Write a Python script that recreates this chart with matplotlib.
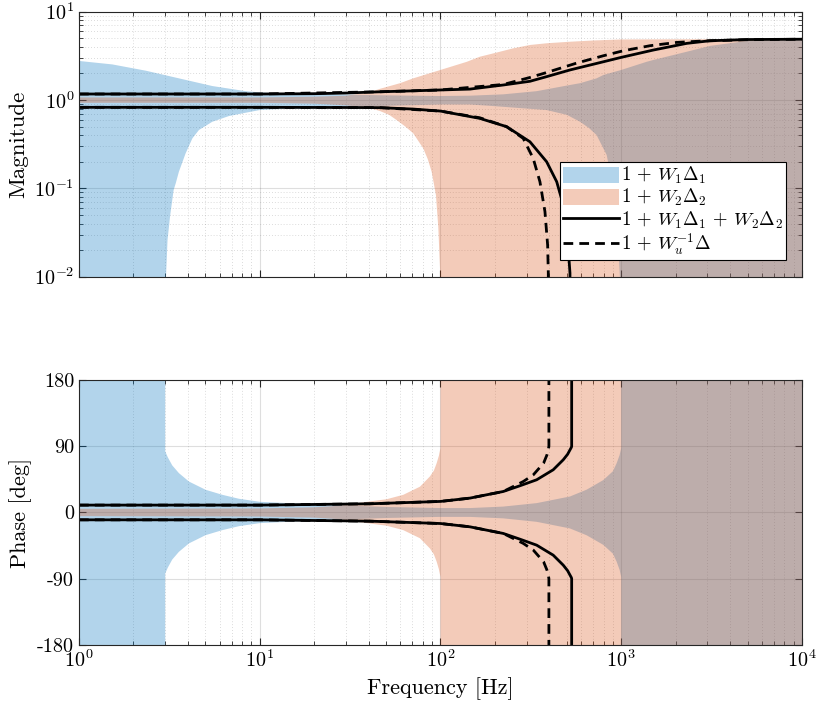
import numpy as np
import matplotlib.pyplot as plt
from matplotlib.patches import Patch
from matplotlib.lines import Line2D

plt.rcParams['mathtext.fontset'] = 'cm'
plt.rcParams['font.family'] = ['cmr10', 'DejaVu Serif']
plt.rcParams['axes.unicode_minus'] = False
plt.rcParams['axes.formatter.use_mathtext'] = True

# --- bande 1 + W1 D1 (bleue) ---
w1_hi_f = [1, 1.53, 2.34, 3.57, 5.47, 8.36, 10, 12.75, 20, 50, 100, 145.6, 222.6, 340.6, 520.6, 591.5, 731, 796, 1000, 1383, 1505, 2303, 3100, 4943, 10000]
w1_hi = [2.77, 2.53, 2.15, 1.76, 1.44, 1.26, 1.22, 1.19, 1.17, 1.13, 1.11, 1.12, 1.16, 1.26, 1.48, 1.55, 1.76, 1.92, 2.19, 2.71, 2.84, 3.52, 4.1, 4.66, 4.86]
w1_lo_f = [1, 3.0, 3.03, 3.09, 3.19, 3.34, 3.43, 3.57, 3.89, 4.24, 4.61, 5.47, 6.76, 8.36, 10, 12.75, 20, 40, 100, 145.6, 187.8, 386.8, 500, 591.5, 665, 731, 831, 903, 951, 984, 1000, 10000]
w1_lo = [1e-3, 1e-3, 0.01, 0.026, 0.048, 0.096, 0.114, 0.154, 0.249, 0.368, 0.458, 0.568, 0.659, 0.718, 0.77, 0.79, 0.80, 0.85, 0.89, 0.89, 0.86, 0.77, 0.68, 0.568, 0.48, 0.401, 0.239, 0.100, 0.035, 0.0097, 1e-3, 1e-3]
w1_ph_f = [1, 3.0, 3.0, 3.1, 3.28, 3.57, 4.06, 5.02, 6.21, 7.68, 10, 20, 50, 100, 145.6, 222.6, 340.6, 520.6, 644, 796, 900, 944, 980, 1000, 1000, 10000]
w1_ph = [180, 180, 83, 75, 64, 53.5, 42, 30.8, 24, 18.6, 14.5, 11, 7.5, 6, 6, 8, 12.7, 21.7, 31, 44, 56, 67, 78, 87.5, 180, 180]

# --- bande 1 + W2 D2 (orange) ---
w2_hi_f = [1, 10, 20, 30, 40, 46.3, 59.7, 70.7, 100, 140, 165, 205, 253, 313, 387, 520, 700, 1000, 10000]
w2_hi = [1.07, 1.07, 1.09, 1.12, 1.22, 1.34, 1.55, 1.76, 2.19, 2.71, 3.09, 3.45, 3.85, 4.2, 4.39, 4.57, 4.72, 4.85, 4.92]
w2_lo_f = [1, 10, 20, 30, 40, 46.3, 52, 57.2, 64, 70.7, 80.3, 85, 89.4, 94.4, 97.3, 99.5, 100, 10000]
w2_lo = [0.93, 0.93, 0.91, 0.87, 0.82, 0.75, 0.68, 0.594, 0.50, 0.42, 0.284, 0.215, 0.154, 0.084, 0.036, 0.012, 1e-3, 1e-3]
w2_ph_f = [1, 10, 20, 27, 40.7, 50.4, 62.3, 77, 87.5, 92, 95.3, 98, 100, 100, 10000]
w2_ph = [5, 5.5, 7, 9, 15, 18, 24, 35, 49, 57, 67, 77, 87.5, 180, 180]

# --- 1 + W1 D1 + W2 D2 (trait plein) ---
sum_hi_f = [1, 10, 20, 30, 46.3, 70, 100, 145.6, 222.6, 312.6, 386.8, 520.6, 796, 1000, 1505, 2303, 3098, 5000, 10000]
sum_hi = [1.17, 1.17, 1.18, 1.20, 1.24, 1.27, 1.30, 1.33, 1.48, 1.63, 1.84, 2.19, 2.71, 3.04, 3.68, 4.38, 4.69, 4.84, 4.88]
sum_lo_f = [1, 10, 30, 46.3, 70.7, 100, 165, 232, 312.6, 386.8, 439.6, 478, 503, 520.6, 522]
sum_lo = [0.827, 0.827, 0.823, 0.82, 0.79, 0.75, 0.62, 0.50, 0.337, 0.20, 0.119, 0.065, 0.030, 0.011, 1e-3]
sum_ph_f = [1, 10, 40.7, 100, 145.6, 222.6, 275.4, 340.6, 420.6, 478, 505, 522, 530, 532, 532]
sum_ph = [10, 10, 11.8, 15, 19.5, 28.5, 36.3, 44.4, 58, 71.6, 79, 85.5, 88.5, 90, 180]

# --- 1 + Wu^-1 D (tirets) ---
wu_hi_f = [1, 10, 46.3, 100, 222.6, 312.6, 387, 567, 796, 1026, 1443, 2026, 2844, 5000, 10000]
wu_hi = [1.17, 1.17, 1.24, 1.30, 1.50, 1.80, 2.05, 2.62, 3.17, 3.61, 4.12, 4.49, 4.66, 4.82, 4.88]
wu_lo_f = [1, 10, 46.3, 100, 165, 232, 287, 326, 355, 378.5, 391.7, 395, 396]
wu_lo = [0.827, 0.827, 0.82, 0.75, 0.63, 0.50, 0.368, 0.218, 0.119, 0.0546, 0.0228, 0.011, 1e-3]
wu_ph_f = [1, 10, 40.7, 100, 145.6, 222.6, 287, 326, 372, 388, 395, 398, 398]
wu_ph = [10, 10, 11.8, 15, 19.5, 28.5, 42, 51, 67, 78, 85, 90, 180]

freq_ticks = [1, 10, 100, 1000, 10000]
freq_labels = [r'$10^{0}$', r'$10^{1}$', r'$10^{2}$', r'$10^{3}$', r'$10^{4}$']
mag_ticks = [1e-2, 1e-1, 1, 10]
mag_labels = [r'$10^{-2}$', r'$10^{-1}$', r'$10^{0}$', r'$10^{1}$']
phase_ticks = [-180, -90, 0, 90, 180]
phase_labels = ['-180', '-90', '0', '90', '180']

blue = '#0072BD'
orange = '#D95319'
axc = '#262626'


def band_mag(ax, f_hi, hi, f_lo, lo, color):
    x = np.concatenate([f_hi, f_lo[::-1]])
    y = np.concatenate([hi, lo[::-1]])
    ax.fill(x, y, color=color, alpha=0.3, lw=0)


def band_phase(ax, f, ph, color):
    f = np.array(f)
    ph = np.array(ph)
    ax.fill(np.concatenate([f, f[::-1]]), np.concatenate([ph, -ph[::-1]]), color=color, alpha=0.3, lw=0)


def style(ax):
    ax.set_xscale('log')
    ax.set_xlim(1, 1e4)
    ax.set_axisbelow(True)
    ax.grid(True, which='major', color=axc, alpha=0.15, lw=0.8)
    ax.grid(True, which='minor', color=axc, alpha=0.22, lw=0.6, ls=(0, (1, 2.5)))
    ax.tick_params(which='both', direction='in', top=True, right=True, color=axc, labelsize=14.5)
    ax.tick_params(which='major', length=5)
    ax.tick_params(which='minor', length=3)
    for s in ax.spines.values():
        s.set_color(axc)
        s.set_linewidth(0.8)


fig = plt.figure(figsize=(8.21, 7.13), dpi=100)
ax1 = fig.add_axes([0.0962, 0.6119, 0.8806, 0.3717])
ax2 = fig.add_axes([0.0962, 0.0954, 0.8806, 0.3717])

# amplitude
band_mag(ax1, w1_hi_f, w1_hi, w1_lo_f, w1_lo, blue)
band_mag(ax1, w2_hi_f, w2_hi, w2_lo_f, w2_lo, orange)
ax1.plot(sum_hi_f, sum_hi, 'k-', lw=2)
ax1.plot(sum_lo_f, sum_lo, 'k-', lw=2)
ax1.plot(wu_hi_f, wu_hi, 'k--', lw=2, dashes=(3.5, 2.2))
ax1.plot(wu_lo_f, wu_lo, 'k--', lw=2, dashes=(3.5, 2.2))
ax1.set_yscale('log')
style(ax1)
ax1.set_ylim(1e-2, 1e1)
ax1.set_xticks(freq_ticks)
ax1.set_yticks(mag_ticks)
ax1.set_yticklabels(mag_labels)
ax1.tick_params(labelbottom=False)
ax1.set_ylabel('Magnitude', fontsize=16.5)

handles = [Patch(facecolor=blue, alpha=0.3, lw=0),
           Patch(facecolor=orange, alpha=0.3, lw=0),
           Line2D([], [], color='k', lw=2),
           Line2D([], [], color='k', lw=2, ls='--', dashes=(3.5, 2.2))]
labels = [r'$1\,+\,W_1 \Delta_1$', r'$1\,+\,W_2 \Delta_2$',
          r'$1\,+\,W_1 \Delta_1\,+\,W_2 \Delta_2$', r'$1\,+\,W_u^{-1} \Delta$']
leg = ax1.legend(handles, labels, loc='lower right', bbox_to_anchor=(0.978, 0.063),
                 borderaxespad=0, fontsize=13.5, fancybox=False, framealpha=1,
                 edgecolor='k', handlelength=3.0, handleheight=0.95, handletextpad=0.1,
                 borderpad=0.15, labelspacing=0.05)
leg.get_frame().set_linewidth(0.8)

# phase
band_phase(ax2, w1_ph_f, w1_ph, blue)
band_phase(ax2, w2_ph_f, w2_ph, orange)
ax2.plot(sum_ph_f, sum_ph, 'k-', lw=2)
ax2.plot(sum_ph_f, -np.array(sum_ph), 'k-', lw=2)
ax2.plot(wu_ph_f, wu_ph, 'k--', lw=2, dashes=(3.5, 2.2))
ax2.plot(wu_ph_f, -np.array(wu_ph), 'k--', lw=2, dashes=(3.5, 2.2))
style(ax2)
ax2.set_ylim(-180, 180)
ax2.set_xticks(freq_ticks)
ax2.set_xticklabels(freq_labels)
ax2.set_yticks(phase_ticks)
ax2.set_yticklabels(phase_labels)
ax2.set_ylabel('Phase [deg]', fontsize=16)
ax2.set_xlabel('Frequency [Hz]', fontsize=16)

fig.savefig('out.png', dpi=100)
